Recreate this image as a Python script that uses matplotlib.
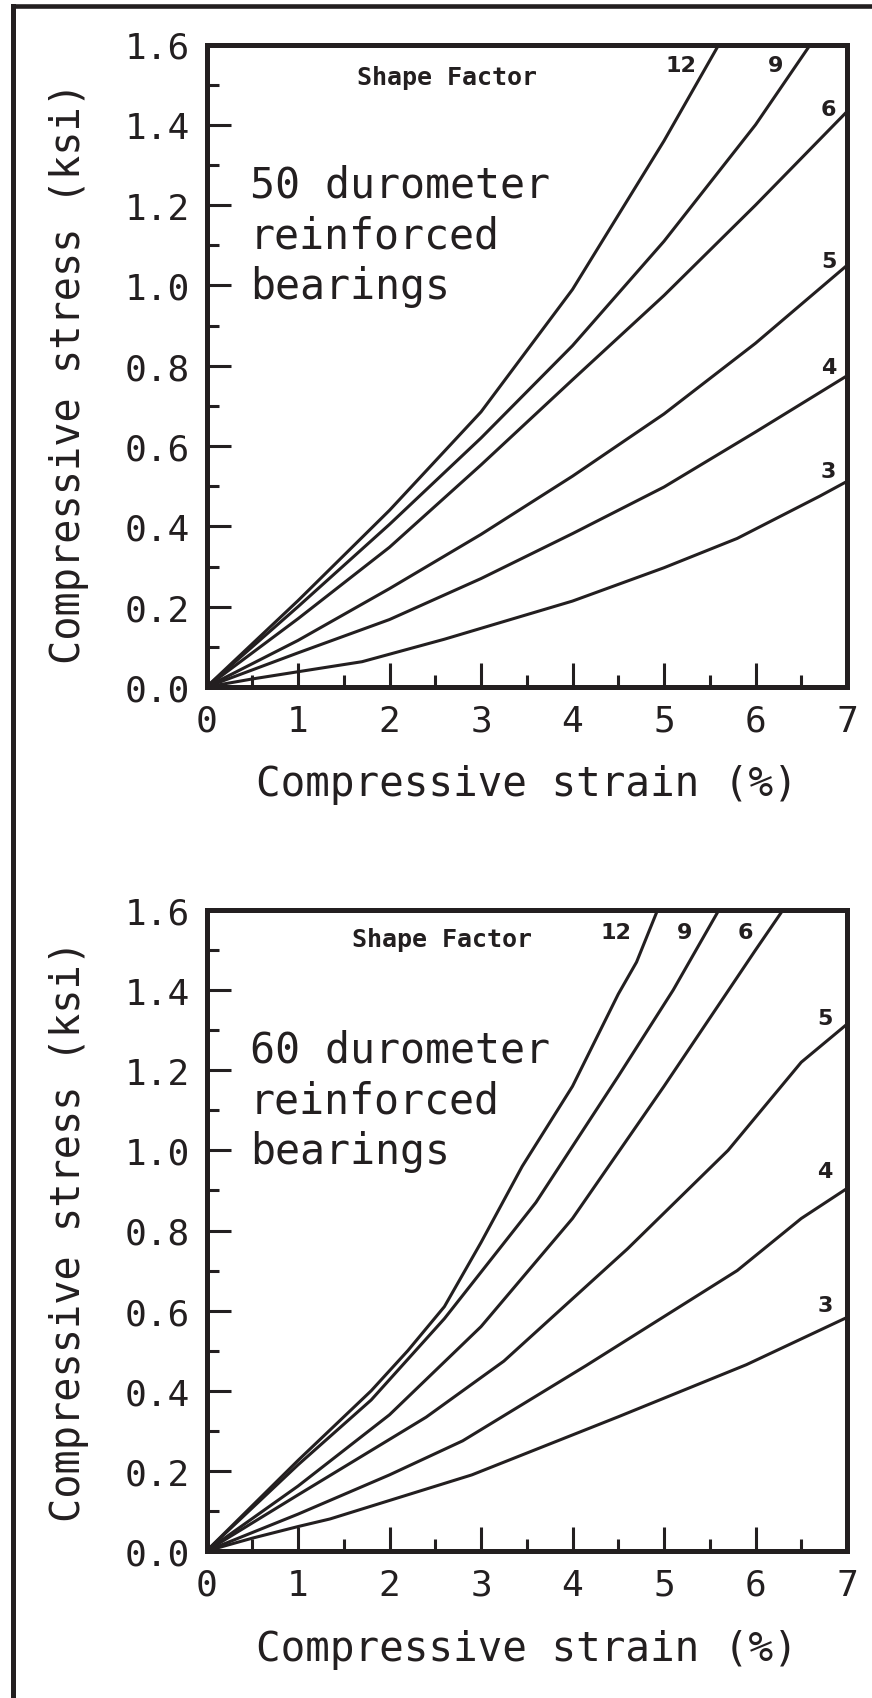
import matplotlib
matplotlib.use("Agg")
import matplotlib.pyplot as plt
from matplotlib.lines import Line2D
from matplotlib.ticker import MultipleLocator

# values: compressive strain (%) vs stress (ksi)
shape_factors = ["3", "4", "5", "6", "9", "12"]

# 50 durometer reinforced bearings
strain50_sf3 = [0, 0.5, 1, 1.7, 2.6, 4, 5, 5.8, 6.7, 7]
stress50_sf3 = [0, 0.02, 0.038, 0.063, 0.119, 0.214, 0.297, 0.37, 0.475, 0.512]
strain50_sf4 = [0, 1, 2, 3, 4, 5, 6, 7]
stress50_sf4 = [0, 0.085, 0.168, 0.27, 0.382, 0.498, 0.635, 0.775]
strain50_sf5 = [0, 1, 2, 3, 4, 5, 6, 7]
stress50_sf5 = [0, 0.116, 0.245, 0.38, 0.525, 0.68, 0.856, 1.05]
strain50_sf6 = [0, 1, 2, 3, 4, 5, 6, 7]
stress50_sf6 = [0, 0.17, 0.348, 0.553, 0.765, 0.975, 1.2, 1.433]
strain50_sf9 = [0, 1, 2, 3, 4, 5, 6, 6.6]
stress50_sf9 = [0, 0.2, 0.405, 0.62, 0.85, 1.11, 1.40, 1.6]
strain50_sf12 = [0, 1, 2, 3, 4, 5, 5.6]
stress50_sf12 = [0, 0.215, 0.44, 0.685, 0.99, 1.36, 1.6]

# 60 durometer reinforced bearings
strain60_sf3 = [0, 0.5, 1, 1.35, 2.9, 4.5, 5.9, 7]
stress60_sf3 = [0, 0.032, 0.061, 0.08, 0.19, 0.335, 0.465, 0.583]
strain60_sf4 = [0, 1, 2, 2.8, 4.15, 5.8, 6.5, 7]
stress60_sf4 = [0, 0.092, 0.19, 0.275, 0.463, 0.70, 0.83, 0.905]
strain60_sf5 = [0, 1, 2.4, 3.25, 4.6, 5.7, 6.5, 7]
stress60_sf5 = [0, 0.14, 0.334, 0.474, 0.754, 1.0, 1.22, 1.315]
strain60_sf6 = [0, 1, 2, 3, 4, 5, 6, 6.3]
stress60_sf6 = [0, 0.162, 0.34, 0.56, 0.83, 1.16, 1.5, 1.6]
strain60_sf9 = [0, 1, 1.8, 2.6, 3.6, 4.5, 5.1, 5.6]
stress60_sf9 = [0, 0.215, 0.377, 0.58, 0.87, 1.185, 1.40, 1.6]
strain60_sf12 = [0, 1, 1.8, 2.2, 2.6, 3.0, 3.45, 4.0, 4.5, 4.7, 4.93]
stress60_sf12 = [0, 0.226, 0.40, 0.50, 0.61, 0.77, 0.96, 1.16, 1.39, 1.47, 1.6]

curves50 = [(strain50_sf3, stress50_sf3), (strain50_sf4, stress50_sf4),
            (strain50_sf5, stress50_sf5), (strain50_sf6, stress50_sf6),
            (strain50_sf9, stress50_sf9), (strain50_sf12, stress50_sf12)]
curves60 = [(strain60_sf3, stress60_sf3), (strain60_sf4, stress60_sf4),
            (strain60_sf5, stress60_sf5), (strain60_sf6, stress60_sf6),
            (strain60_sf9, stress60_sf9), (strain60_sf12, stress60_sf12)]

# where the shape factor numbers sit (data coords), same order as shape_factors
label_pos50 = [(6.80, 0.539), (6.80, 0.798), (6.80, 1.062), (6.80, 1.44), (6.22, 1.55), (5.18, 1.55)]
label_pos60 = [(6.76, 0.614), (6.76, 0.948), (6.76, 1.33), (5.89, 1.546), (5.23, 1.546), (4.48, 1.546)]

ink = "#231f20"
mono = "DejaVu Sans Mono"
W, H = 872, 1699

fig = plt.figure(figsize=(W / 100, H / 100), dpi=100)

# partial outer frame (top and left edges of the original figure border)
fig.add_artist(Line2D([12.5 / W, 12.5 / W], [0, 1 - 7 / H], color=ink, lw=3.6,
                      transform=fig.transFigure))
fig.add_artist(Line2D([12.5 / W, 1], [1 - 7 / H, 1 - 7 / H], color=ink, lw=3.3,
                      transform=fig.transFigure))


def draw_panel(ax, curves, label_pos, title, xlab_y, ylab_y, sf_x, sf_y):
    for (x, y) in curves:
        ax.plot(x, y, color=ink, lw=2.2, solid_joinstyle="round")
    for name, (lx, ly) in zip(shape_factors, label_pos):
        ax.text(lx, ly, name, ha="center", va="center", fontsize=16,
                fontweight="bold", color=ink)

    ax.set_xlim(0, 7)
    ax.set_ylim(0, 1.6)
    ax.xaxis.set_major_locator(MultipleLocator(1))
    ax.xaxis.set_minor_locator(MultipleLocator(0.5))
    ax.yaxis.set_major_locator(MultipleLocator(0.2))
    ax.yaxis.set_minor_locator(MultipleLocator(0.1))
    ax.yaxis.set_major_formatter(plt.FuncFormatter(lambda v, p: f"{v:.1f}"))
    ax.tick_params(which="both", direction="in", color=ink, width=2.2,
                   labelsize=26, labelcolor=ink, pad=12)
    ax.tick_params(which="major", length=17)
    ax.tick_params(which="minor", length=8.5)
    for lab in ax.get_xticklabels() + ax.get_yticklabels():
        lab.set_family(mono)
    for sp in ax.spines.values():
        sp.set_linewidth(3.6)
        sp.set_color(ink)

    ax.set_xlabel("Compressive strain (%)", fontsize=29.5, family=mono,
                  color=ink, va="center")
    ax.xaxis.set_label_coords(0.5, xlab_y)
    ax.set_ylabel("Compressive stress (ksi)", fontsize=29, family=mono,
                  color=ink, va="center")
    ax.yaxis.set_label_coords(-0.215, ylab_y)

    ax.text(sf_x, sf_y, "Shape Factor", transform=ax.transAxes, ha="center",
            va="center", fontsize=18, fontweight="bold", family=mono, color=ink)
    ax.text(0.068, 0.703, title, transform=ax.transAxes, ha="left",
            va="center", fontsize=30, family=mono, color=ink, linespacing=1.26)


ax1 = fig.add_axes([206.5 / W, 1 - 688 / H, 640.5 / W, 642.5 / H])
draw_panel(ax1, curves50, label_pos50, "50 durometer\nreinforced\nbearings",
           -0.151, 0.49, 0.375, 0.949)

ax2 = fig.add_axes([206.5 / W, 1 - 1552 / H, 640.5 / W, 641 / H])
draw_panel(ax2, curves60, label_pos60, "60 durometer\nreinforced\nbearings",
           -0.153, 0.50, 0.368, 0.955)

fig.savefig("out.png", dpi=100, facecolor="white")
